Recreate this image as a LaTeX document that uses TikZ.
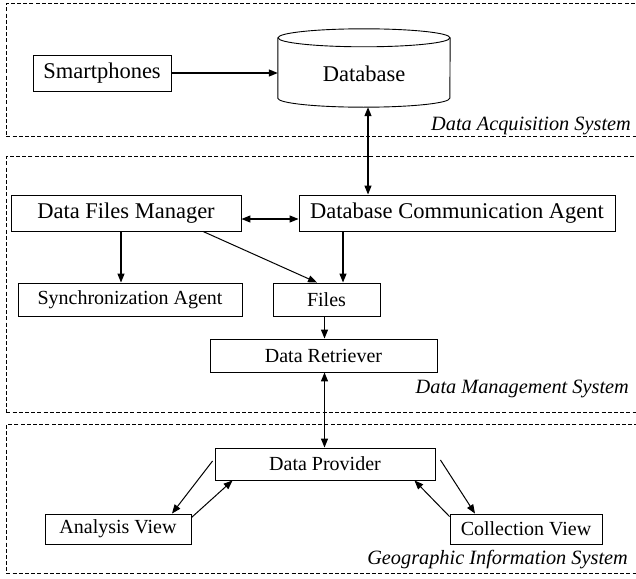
\documentclass[tikz,border=0pt]{standalone}
\usepackage{fontspec}
\setmainfont{Liberation Serif}
\usetikzlibrary{arrows.meta}

\tikzset{
  box/.style={draw, line width=0.9pt, inner sep=0pt, font=\fontsize{22.5}{24}\selectfont},
  smallbox/.style={box, font=\fontsize{20}{22}\selectfont},
  region/.style={draw, dashed, line width=0.8pt, dash pattern=on 4pt off 2.2pt,
                 inner sep=0pt, anchor=north west},
  regionlabel/.style={anchor=east, inner sep=0pt, font=\fontsize{20.3}{22}\selectfont\itshape},
  flow/.style={line width=1.2pt, -{Triangle[length=9pt,width=7pt]}},
  flowboth/.style={line width=1.2pt, {Triangle[length=9pt,width=7pt]}-{Triangle[length=9pt,width=7pt]}},
  thinflow/.style={line width=1pt, -{Triangle[length=9pt,width=7pt]}},
}

\begin{document}
\begin{tikzpicture}[x=1pt, y=-1pt]
  \useasboundingbox (0,0) rectangle (636,578);
  \clip (0,0) rectangle (636,578);

  % subsystem frames (open on the right edge)
  \node[region, minimum width=660pt, minimum height=133pt] (acq) at (6,3) {};
  \node[region, minimum width=660pt, minimum height=256pt] (mgmt) at (6,156) {};
  \node[region, minimum width=660pt, minimum height=149pt] (gis) at (6,424) {};

  \node[regionlabel] (acqlbl)  at (631,126) {Data Acquisition System};
  \node[regionlabel] (mgmtlbl) at (629,389) {Data Management System};
  \node[regionlabel] (gislbl)  at (628,560) {Geographic Information System};

  % data acquisition
  \node[box, minimum width=138pt, minimum height=36pt] (sp) at (102,73) {Smartphones};

  \node[minimum width=172pt, minimum height=78pt, inner sep=0pt] (db) at (364,68) {};
  \draw[line width=0.9pt]
    ([yshift=-9pt]db.north west) -- ([yshift=9pt]db.south west)
    arc[start angle=180, end angle=360, x radius=86, y radius=-9]
    -- ([yshift=-9pt]db.north east);
  \draw[line width=0.9pt] ([yshift=-9pt]db.north) ellipse[x radius=86, y radius=9];
  \node[font=\fontsize{22.5}{24}\selectfont, inner sep=0pt] (dbt) at (364,74) {Database};

  % data management
  \node[box, minimum width=230pt, minimum height=36pt] (dfm) at (126,213) {Data Files Manager};
  \node[box, minimum width=316pt, minimum height=36pt] (dca) at (457,213) {Database Communication Agent};
  \node[smallbox, minimum width=224pt, minimum height=33pt] (sa) at (130,299.5) {Synchronization Agent};
  \node[smallbox, minimum width=107pt, minimum height=33pt] (files) at (326.5,299.5) {Files};
  \node[smallbox, minimum width=227pt, minimum height=33pt] (dr) at (323.5,355.5) {Data Retriever};

  % geographic information system
  \node[smallbox, minimum width=220pt, minimum height=32pt] (dp) at (325,464) {Data Provider};
  \node[smallbox, minimum width=146pt, minimum height=30pt] (av) at (118,529) {Analysis View};
  \node[smallbox, minimum width=152pt, minimum height=30pt] (cv) at (526,529) {Collection View};

  % connectors
  \draw[flow] (sp.east) -- (sp.east -| db.west);
  \draw[flowboth] ([xshift=4pt]db.south) -- ([xshift=4pt]db.south |- dca.north);
  \draw[flowboth] ([yshift=-6pt]dfm.east) -- ([yshift=-6pt]dca.west);
  \draw[flow] ([xshift=-5pt]dfm.south) -- ([xshift=-5pt]dfm.south |- sa.north);
  \draw[thinflow] ([xshift=77pt]dfm.south) -- ([xshift=-9.5pt]files.north);
  \draw[flow] ([xshift=-114pt]dca.south) -- ([xshift=-114pt]dca.south |- files.north);
  \draw[flow] ([xshift=-2pt]files.south) -- ([xshift=-2pt]files.south |- dr.north);
  \draw[flowboth] ([xshift=1pt]dr.south) -- ([xshift=1pt]dr.south |- dp.north);

  \draw[thinflow] ([xshift=-2pt,yshift=3pt]dp.west) -- ([xshift=54pt]av.north);
  \draw[thinflow] ([yshift=-4pt]av.north east) -- ([xshift=18pt]dp.south west);
  \draw[thinflow] ([xshift=5pt,yshift=4pt]dp.east) -- ([xshift=-51pt]cv.north);
  \draw[thinflow] ([yshift=-3pt]cv.north west) -- ([xshift=-21pt]dp.south east);
\end{tikzpicture}
\end{document}
